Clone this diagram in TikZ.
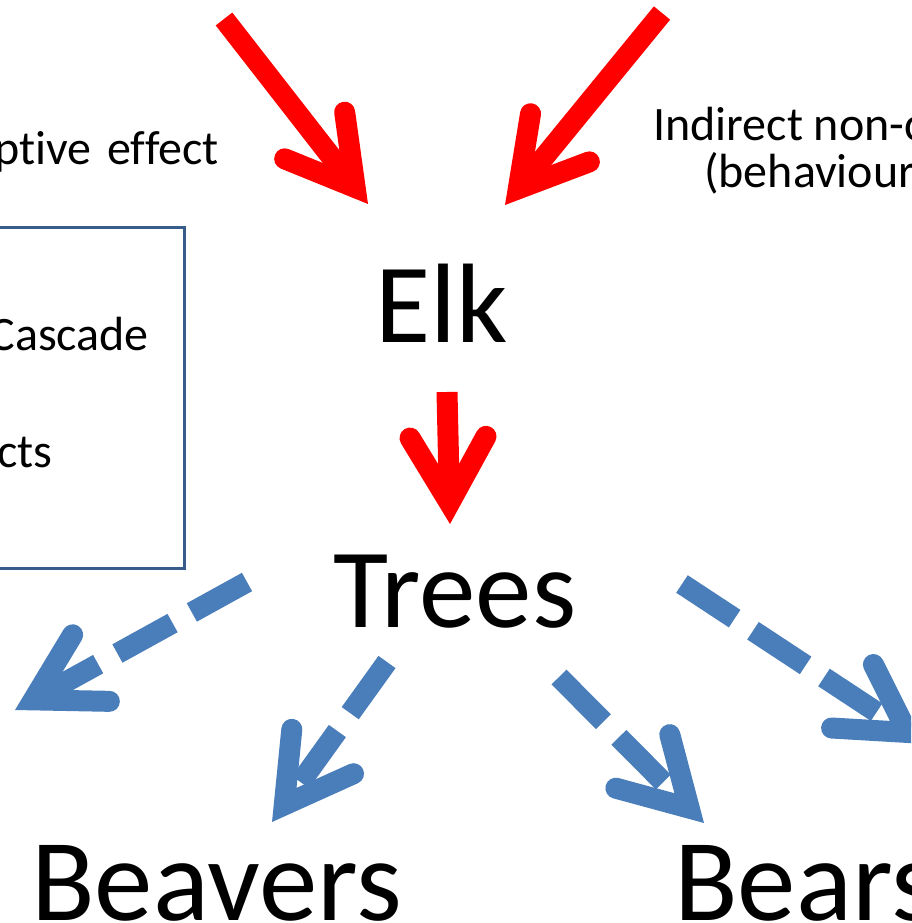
\documentclass[tikz,border=0pt]{standalone}
\usepackage{fontspec}
\setmainfont{Carlito}[Ligatures=NoCommon]
\usetikzlibrary{calc}
\definecolor{arrowred}{HTML}{FF0000}
\definecolor{arrowblue}{HTML}{4A7EBB}
\definecolor{boxblue}{HTML}{385D8A}
\tikzset{
  bigtxt/.style={font=\fontsize{113}{136}\selectfont,inner sep=0pt},
  bottomtxt/.style={font=\fontsize{117}{140}\selectfont,inner sep=0pt},
  smalltxt/.style={font=\fontsize{48}{58}\selectfont,inner sep=0pt},
  redline/.style={draw=arrowred},
  blueline/.style={draw=arrowblue,dash pattern=on 63pt off 22pt},
  boxline/.style={draw=boxblue,line width=3pt,minimum width=226pt,minimum height=341pt,inner sep=0pt}
}
\newcommand{\openarrow}[3]{%
  \path($(#3)!21pt!(#2)$)coordinate(hv);
  \draw[#1,line width=21pt](#2)--(hv);
  \draw[#1,line width=21pt,solid,line cap=round,line join=miter]($(hv)!76pt!30:(#2)$)--(hv)--($(hv)!76pt!-30:(#2)$);
}
\begin{document}
\begin{tikzpicture}[x=1pt,y=-1pt]
\useasboundingbox(0,0)rectangle(911,923);
\clip(0,0)rectangle(911,923);
\node[bigtxt,anchor=base](elk)at(442,342){Elk};
\node[bigtxt,anchor=base](trees)at(455,627){Trees};
\node[bottomtxt,anchor=base west](beavers)at(31,920){Beavers};
\node[bottomtxt,anchor=base west](bears)at(674,920){Bears};
\node[smalltxt,anchor=base east](direct)at(219,164){ptive\hspace{5pt} effect};
\node[smalltxt,anchor=base west](indirect)at(653,140){Indirect non-c};
\node[smalltxt,anchor=base west](behav)at(704,187){(behaviour};
\node[boxline,anchor=north east](legend)at(186,226){};
\node[smalltxt,anchor=base east](cascade)at(149,350){Cascade};
\node[smalltxt,anchor=base east](effects)at(52.5,467){cts};
\coordinate(r1)at(224,19);\coordinate(r1tip)at(368,204);
\coordinate(r2)at(662,13);\coordinate(r2tip)at(505,205);
\coordinate(r3)at(447,392);\coordinate(r3tip)at(450,524);
\coordinate(b1)at(247,582);\coordinate(b1tip)at(15,710);
\coordinate(b2)at(387,662);\coordinate(b2tip)at(272,822);
\coordinate(b3)at(559,677);\coordinate(b3tip)at(704,823);
\coordinate(b4)at(682,584);\coordinate(b4tip)at(925,744);
\openarrow{redline}{r1}{r1tip}
\openarrow{redline}{r2}{r2tip}
\openarrow{redline}{r3}{r3tip}
\openarrow{blueline}{b1}{b1tip}
\openarrow{blueline}{b2}{b2tip}
\openarrow{blueline}{b3}{b3tip}
\openarrow{blueline}{b4}{b4tip}
\end{tikzpicture}
\end{document}
